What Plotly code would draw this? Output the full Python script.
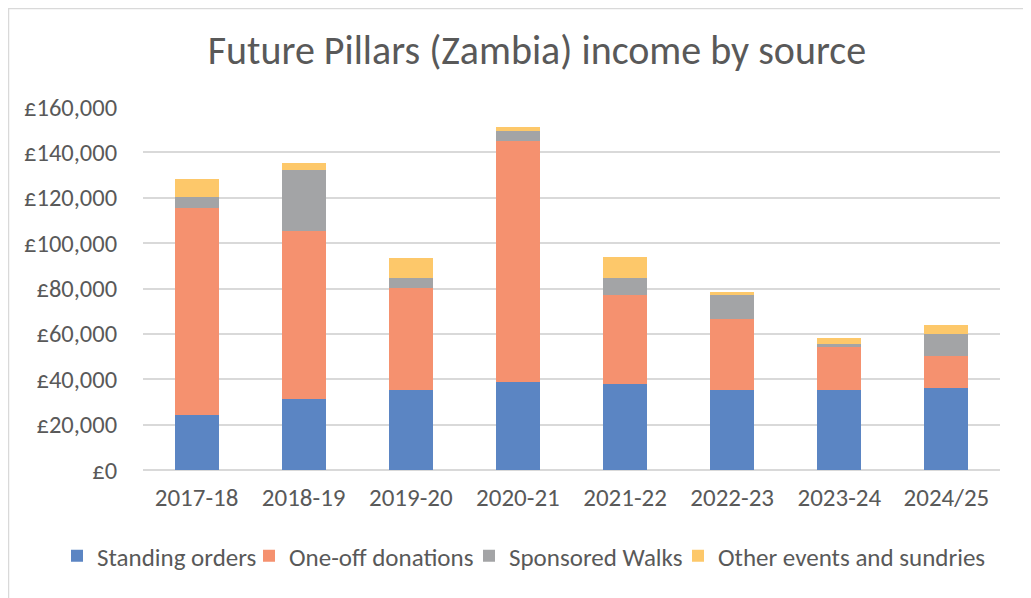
import plotly.graph_objects as go

years = ["2017-18", "2018-19", "2019-20", "2020-21", "2021-22", "2022-23", "2023-24", "2024/25"]
standing_orders = [24100, 31400, 35300, 38900, 37900, 35300, 35300, 36300]
one_off_donations = [91200, 73900, 45100, 106100, 39100, 31400, 19300, 14100]
sponsored_walks = [5200, 26900, 4400, 4400, 7600, 10400, 800, 9400]
other_events = [7600, 3200, 8500, 1800, 9400, 1500, 2900, 4000]

series = [
    ("Standing orders", standing_orders, "#5B85C3"),
    ("One-off donations", one_off_donations, "#F5916F"),
    ("Sponsored Walks", sponsored_walks, "#A3A4A6"),
    ("Other events and sundries", other_events, "#FDC86A"),
]

font_family = "Carlito, Calibri, 'Liberation Sans Narrow', 'Open Sans', sans-serif"

# page is offset by the 8px body margin
W, H = 1023, 590
L, R, T, B = 135, 31, 99, 128
pw, ph = W - L - R, H - T - B

legend_ids = ["legend", "legend2", "legend3", "legend4"]
legend_text_left = [94, 286, 506, 715]  # page x where each legend label starts

fig = go.Figure()
for (name, vals, color), lid in zip(series, legend_ids):
    fig.add_trace(go.Bar(name=name, x=years, y=vals, legend=lid, showlegend=True,
                         marker=dict(color=color, line=dict(width=0))))

legend_layout = {}
for lid, tx in zip(legend_ids, legend_text_left):
    legend_layout[lid] = dict(
        orientation="h", xref="container", x=(tx - 8 - 37) / W, xanchor="left",
        yref="container", y=1 - 548 / H, yanchor="middle", visible=True,
        font=dict(size=25, color="#595959"), itemwidth=30, bgcolor="rgba(0,0,0,0)",
    )

fig.update_layout(
    width=W, height=H, showlegend=True,
    barmode="stack", bargap=0.59,
    paper_bgcolor="white", plot_bgcolor="white",
    margin=dict(l=L, r=R, t=T, b=B, autoexpand=False),
    font=dict(family=font_family, color="#595959", size=24),
    title=dict(text="Future Pillars (Zambia) income by source", x=0.517, xanchor="center",
               y=1 - 42 / H, yanchor="middle", font=dict(size=40, color="#595959")),
    xaxis=dict(showgrid=False, showline=False, ticks="outside", ticklen=5, tickcolor="rgba(0,0,0,0)",
               tickfont=dict(size=25, color="#595959")),
    yaxis=dict(range=[0, 160000], dtick=20000, tickprefix="£", tickformat=",d",
               showgrid=True, gridcolor="#D9D9D9", gridwidth=1.5, zeroline=True,
               zerolinecolor="#D9D9D9", zerolinewidth=1.5, ticks="outside", ticklen=20,
               tickcolor="rgba(0,0,0,0)",
               tickfont=dict(size=24.5, color="#595959")),
    shapes=[dict(type="rect", xref="paper", yref="paper",
                 x0=0.5 / pw - L / pw, x1=(1060 - L) / pw,
                 y0=-(640 - (H - B)) / ph, y1=1 + (T - 0.5) / ph,
                 line=dict(color="#D9D9D9", width=1.5), layer="below")],
    **legend_layout,
)

fig.write_html("out.html")
